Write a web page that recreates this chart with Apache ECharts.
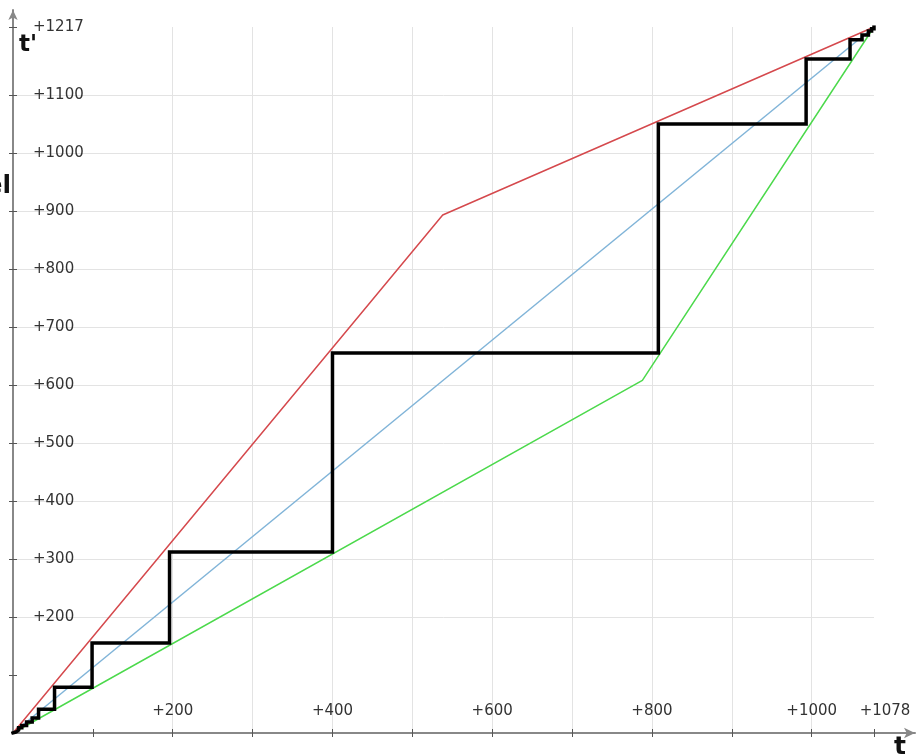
<!DOCTYPE html>
<html>
<head>
<meta charset="utf-8">
<script src="https://cdn.jsdelivr.net/npm/echarts@6/dist/echarts.min.js"></script>
<style>
html,body{margin:0;padding:0;background:#fff;}
#chart{width:924px;height:755px;}
</style>
</head>
<body>
<div id="chart"></div>
<script>
// ---- data ----
var tMax = 1078;
var tpMax = 1217;
var xTickValues = [100, 200, 300, 400, 500, 600, 700, 800, 900, 1000, 1078];
var xLabelValues = [200, 400, 600, 800, 1000, 1078];
var yTickValues = [100, 200, 300, 400, 500, 600, 700, 800, 900, 1000, 1100, 1217];
var yLabelValues = [200, 300, 400, 500, 600, 700, 800, 900, 1000, 1100, 1217];

var redT = [0, 538, 1078];
var redV = [0, 893, 1217];
var blueT = [0, 1078];
var blueV = [0, 1217];
var greenT = [0, 788, 1078];
var greenV = [0, 608, 1217];
// staircase: at each t the level jumps to the value
var stairT = [0, 2, 4, 7, 11, 17, 24, 32, 52, 99, 196, 400, 808, 993, 1048, 1063, 1071, 1075, 1078];
var stairV = [0, 2, 5, 9, 13, 19, 26, 41, 79, 155, 312, 655, 1050, 1162, 1195, 1203, 1210, 1214, 1217];

function pairs(a, b) { return a.map(function (v, i) { return [v, b[i]]; }); }

var FONT = 'DejaVu Sans';
var chart = echarts.init(document.getElementById('chart'));

var option = {
  animation: false,
  backgroundColor: '#ffffff',
  grid: [
    { left: 13, right: 50, top: 27, bottom: 22 },
    { left: 13, right: 9, top: 10, bottom: 22 }
  ],
  xAxis: [
    {
      type: 'value', gridIndex: 0, min: 0, max: tMax, interval: 100, position: 'bottom',
      axisLine: { show: false },
      axisTick: { show: true, inside: true, length: 4, customValues: xTickValues, lineStyle: { color: '#555', width: 1 } },
      axisLabel: {
        show: true, inside: true, margin: 14, customValues: xLabelValues,
        fontFamily: FONT, fontSize: 15, color: '#333',
        formatter: function (v) { return v === 1078 ? '{r|+' + v + '}' : '+' + v; },
        rich: { r: { fontFamily: FONT, fontSize: 15, color: '#333', padding: [0, 0, 0, 22] } }
      },
      splitLine: { show: true, showMinLine: false, showMaxLine: false, lineStyle: { color: '#e3e3e3', width: 1 } }
    },
    {
      type: 'value', gridIndex: 0, min: 0, max: tMax, position: 'bottom',
      axisLine: { show: false },
      axisTick: { show: true, inside: false, length: 4, customValues: xTickValues, lineStyle: { color: '#555', width: 1 } },
      axisLabel: { show: false },
      splitLine: { show: false }
    },
    {
      type: 'value', gridIndex: 1, min: 0, max: 1, position: 'bottom',
      axisLine: { show: true, onZero: false, symbol: ['none', 'arrow'], symbolSize: [8, 11], lineStyle: { color: '#888', width: 2 } },
      axisTick: { show: false }, axisLabel: { show: false }, splitLine: { show: false }
    }
  ],
  yAxis: [
    {
      type: 'value', gridIndex: 0, min: 0, max: tpMax, interval: 100, position: 'left',
      axisLine: { show: false },
      axisTick: { show: true, inside: true, length: 4, customValues: yTickValues, lineStyle: { color: '#555', width: 1 } },
      axisLabel: {
        show: true, inside: true, margin: 20, customValues: yLabelValues,
        fontFamily: FONT, fontSize: 15, color: '#333',
        formatter: function (v) { return '+' + v; }
      },
      splitLine: { show: true, showMinLine: false, showMaxLine: false, lineStyle: { color: '#e3e3e3', width: 1 } }
    },
    {
      type: 'value', gridIndex: 0, min: 0, max: tpMax, position: 'left',
      axisLine: { show: false },
      axisTick: { show: true, inside: false, length: 4, customValues: yTickValues, lineStyle: { color: '#555', width: 1 } },
      axisLabel: { show: false },
      splitLine: { show: false }
    },
    {
      type: 'value', gridIndex: 1, min: 0, max: 1, position: 'left',
      axisLine: { show: true, onZero: false, symbol: ['none', 'arrow'], symbolSize: [7, 10], lineStyle: { color: '#888', width: 2 } },
      axisTick: { show: false }, axisLabel: { show: false }, splitLine: { show: false }
    }
  ],
  series: [
    { type: 'line', xAxisIndex: 0, yAxisIndex: 0, data: pairs(blueT, blueV), showSymbol: false, lineStyle: { color: '#80b4d8', width: 1.5 } },
    { type: 'line', xAxisIndex: 0, yAxisIndex: 0, data: pairs(greenT, greenV), showSymbol: false, lineStyle: { color: '#4cd94c', width: 1.5 } },
    { type: 'line', xAxisIndex: 0, yAxisIndex: 0, data: pairs(redT, redV), showSymbol: false, lineStyle: { color: '#d5494d', width: 1.5 } },
    { type: 'line', xAxisIndex: 0, yAxisIndex: 0, data: pairs(stairT, stairV), step: 'end', showSymbol: false, lineStyle: { color: '#000000', width: 3.5, join: 'miter', cap: 'square' } }
  ],
  graphic: [
    { type: 'text', left: 19, top: 34, style: { text: "t'", fontFamily: FONT, fontSize: 23, fontWeight: 'bold', fill: '#111' } },
    { type: 'text', left: 894, top: 735, style: { text: 't', fontFamily: FONT, fontSize: 25, fontWeight: 'bold', fill: '#111' } },
    { type: 'text', right: 913, top: 174, style: { text: 'el', fontFamily: FONT, fontSize: 25, fontWeight: 'bold', fill: '#111' } }
  ]
};
chart.setOption(option);
</script>
</body>
</html>
